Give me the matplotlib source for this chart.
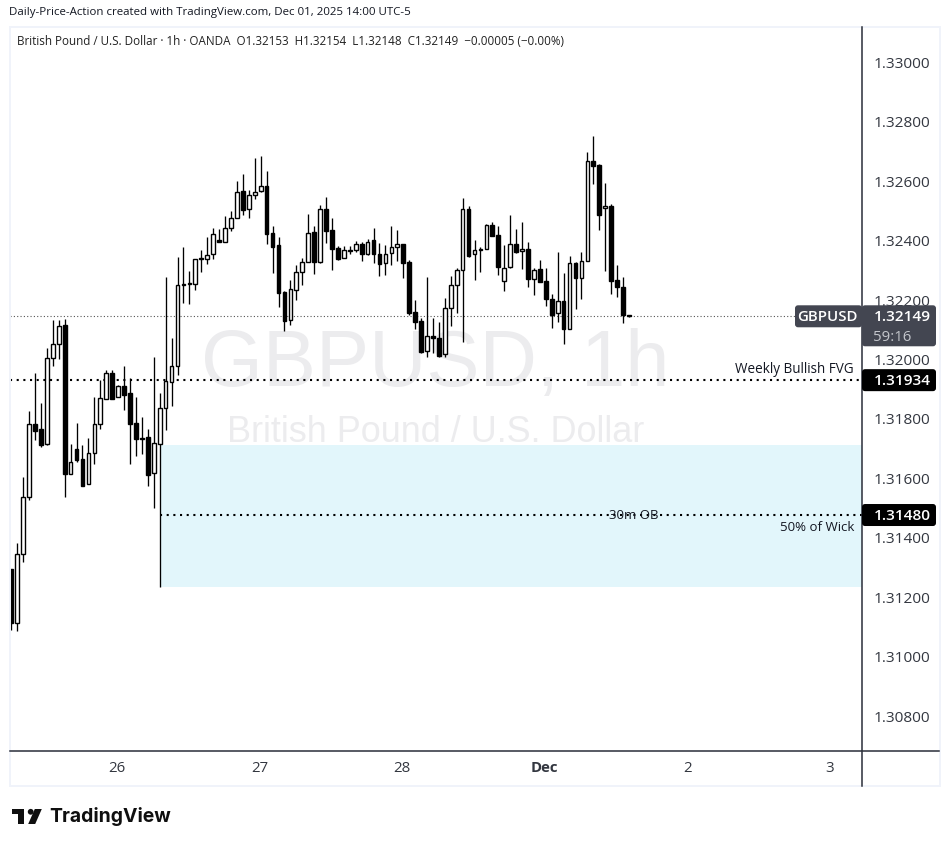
import numpy as np
import matplotlib
matplotlib.use("Agg")
import matplotlib.pyplot as plt
from matplotlib.patches import FancyBboxPatch, Polygon, Circle, Rectangle

# --- data (1h candles) ---
opens = [
    1.31298, 1.31118, 1.31348, 1.31540, 1.31785, 1.31768, 1.31718, 1.32008, 1.32055, 1.32119,
    1.31617, 1.31701, 1.31667, 1.31584, 1.31688, 1.31785, 1.31869, 1.31959, 1.31876, 1.31914,
    1.31890, 1.31790, 1.31738, 1.31741, 1.31621, 1.31718, 1.31840, 1.31927, 1.31981, 1.32256,
    1.32258, 1.32259, 1.32346, 1.32341, 1.32358, 1.32405, 1.32398, 1.32445, 1.32479, 1.32570,
    1.32510, 1.32557, 1.32570, 1.32587, 1.32428, 1.32388, 1.32230, 1.32135, 1.32237, 1.32297,
    1.32331, 1.32432, 1.32333, 1.32510, 1.32439, 1.32378, 1.32344, 1.32370, 1.32371, 1.32391,
    1.32360, 1.32405, 1.32358, 1.32327, 1.32361, 1.32381, 1.32392, 1.32331, 1.32163, 1.32133,
    1.32031, 1.32081, 1.32075, 1.32021, 1.32176, 1.32254, 1.32304, 1.32510, 1.32358, 1.32376,
    1.32374, 1.32455, 1.32422, 1.32267, 1.32314, 1.32392, 1.32368, 1.32375, 1.32273, 1.32307,
    1.32267, 1.32206, 1.32159, 1.32200, 1.32107, 1.32327, 1.32279, 1.32334, 1.32671, 1.32657,
    1.32513, 1.32519, 1.32270, 1.32247, 1.32153,
]
highs = [
    1.31298, 1.31385, 1.31607, 1.31829, 1.31957, 1.31856, 1.32041, 1.32137, 1.32137, 1.32139,
    1.31718, 1.31790, 1.31715, 1.31738, 1.31876, 1.31936, 1.31969, 1.31969, 1.31917, 1.31982,
    1.31940, 1.31877, 1.31810, 1.31768, 1.32012, 1.31890, 1.32280, 1.32076, 1.32348, 1.32381,
    1.32302, 1.32343, 1.32371, 1.32416, 1.32445, 1.32443, 1.32486, 1.32503, 1.32604, 1.32628,
    1.32574, 1.32682, 1.32689, 1.32637, 1.32453, 1.32415, 1.32233, 1.32270, 1.32321, 1.32345,
    1.32494, 1.32453, 1.32523, 1.32550, 1.32479, 1.32386, 1.32385, 1.32387, 1.32402, 1.32398,
    1.32409, 1.32445, 1.32395, 1.32388, 1.32453, 1.32440, 1.32393, 1.32339, 1.32204, 1.32142,
    1.32281, 1.32144, 1.32130, 1.32211, 1.32285, 1.32311, 1.32547, 1.32521, 1.32405, 1.32382,
    1.32461, 1.32465, 1.32452, 1.32389, 1.32490, 1.32443, 1.32467, 1.32399, 1.32311, 1.32339,
    1.32311, 1.32225, 1.32366, 1.32295, 1.32352, 1.32333, 1.32366, 1.32702, 1.32756, 1.32662,
    1.32598, 1.32526, 1.32322, 1.32281, 1.32154,
]
lows = [
    1.31093, 1.31091, 1.31323, 1.31531, 1.31732, 1.31710, 1.31715, 1.31983, 1.32005, 1.31539,
    1.31617, 1.31659, 1.31578, 1.31584, 1.31653, 1.31770, 1.31869, 1.31871, 1.31876, 1.31834,
    1.31653, 1.31679, 1.31685, 1.31576, 1.31505, 1.31239, 1.31767, 1.31848, 1.31953, 1.32195,
    1.32192, 1.32239, 1.32299, 1.32326, 1.32343, 1.32398, 1.32398, 1.32437, 1.32479, 1.32490,
    1.32480, 1.32544, 1.32566, 1.32392, 1.32296, 1.32181, 1.32100, 1.32120, 1.32204, 1.32255,
    1.32331, 1.32293, 1.32330, 1.32397, 1.32306, 1.32339, 1.32344, 1.32359, 1.32366, 1.32336,
    1.32356, 1.32327, 1.32286, 1.32289, 1.32323, 1.32336, 1.32279, 1.32155, 1.32107, 1.32025,
    1.32013, 1.32027, 1.32013, 1.32013, 1.32117, 1.32161, 1.32064, 1.32350, 1.32271, 1.32299,
    1.32374, 1.32420, 1.32288, 1.32234, 1.32311, 1.32362, 1.32308, 1.32249, 1.32221, 1.32265,
    1.32184, 1.32110, 1.32130, 1.32056, 1.32107, 1.32174, 1.32207, 1.32334, 1.32594, 1.32440,
    1.32303, 1.32225, 1.32215, 1.32128, 1.32148,
]
closes = [
    1.31118, 1.31348, 1.31540, 1.31785, 1.31763, 1.31717, 1.32008, 1.32055, 1.32115, 1.31619,
    1.31658, 1.31666, 1.31578, 1.31688, 1.31785, 1.31873, 1.31959, 1.31871, 1.31913, 1.31885,
    1.31788, 1.31737, 1.31736, 1.31616, 1.31722, 1.31840, 1.31930, 1.31981, 1.32254, 1.32258,
    1.32261, 1.32341, 1.32341, 1.32356, 1.32425, 1.32398, 1.32445, 1.32479, 1.32567, 1.32508,
    1.32557, 1.32567, 1.32587, 1.32427, 1.32383, 1.32229, 1.32134, 1.32240, 1.32297, 1.32331,
    1.32428, 1.32333, 1.32510, 1.32437, 1.32377, 1.32343, 1.32371, 1.32372, 1.32391, 1.32360,
    1.32400, 1.32360, 1.32326, 1.32360, 1.32381, 1.32391, 1.32329, 1.32161, 1.32131, 1.32030,
    1.32082, 1.32077, 1.32016, 1.32176, 1.32254, 1.32304, 1.32510, 1.32353, 1.32371, 1.32371,
    1.32455, 1.32420, 1.32316, 1.32311, 1.32391, 1.32366, 1.32375, 1.32273, 1.32304, 1.32265,
    1.32208, 1.32155, 1.32200, 1.32107, 1.32327, 1.32278, 1.32334, 1.32671, 1.32656, 1.32491,
    1.32519, 1.32269, 1.32246, 1.32153, 1.32149,
]

price_ticks = [1.33000, 1.32800, 1.32600, 1.32400, 1.32200, 1.32000,
               1.31800, 1.31600, 1.31400, 1.31200, 1.31000, 1.30800]
day_positions = [18, 42, 66, 90, 114, 138]
day_labels = ["26", "27", "28", "Dec", "2", "3"]

last_price = 1.32149
fvg_level = 1.31934
wick_level = 1.31480
zone_top = 1.31715
zone_bottom = 1.31239
zone_start = 25

W, H = 950, 847
PLOT_L, PLOT_R, PLOT_T, PLOT_B = 10, 862, 27, 751
PX_PER_PRICE = 29705.0
STEP = 5.94
FIRST_X = 11.2

UI_FONT = ["Open Sans", "DejaVu Sans"]
WM_FONT = ["Liberation Sans", "DejaVu Sans"]
DARK = "#131722"
PILL = "#434651"
DOTS = (0, (1, 2.2))


def px(v):
    # fontsize in points for a pixel size at dpi 100
    return v * 0.72


fig = plt.figure(figsize=(W / 100, H / 100), dpi=100, facecolor="white")

ax = fig.add_axes([PLOT_L / W, 1 - PLOT_B / H, (PLOT_R - PLOT_L) / W, (PLOT_B - PLOT_T) / H])
ax.set_xlim((PLOT_L - FIRST_X) / STEP, (PLOT_R - FIRST_X) / STEP)
ax.set_ylim(1.33 - (PLOT_B - 63.5) / PX_PER_PRICE, 1.33 + (63.5 - PLOT_T) / PX_PER_PRICE)
ax.set_xticks([])
ax.set_yticks([])
for s in ax.spines.values():
    s.set_visible(False)

# watermark (axes fractions, so it stays under the candles)
ax.text((435.5 - PLOT_L) / (PLOT_R - PLOT_L), 1 - (365 - PLOT_T) / (PLOT_B - PLOT_T), "GBPUSD, 1h",
        transform=ax.transAxes, ha="center", va="center",
        fontsize=px(79.5), color="#ececee", family=WM_FONT, zorder=1)
ax.text((436 - PLOT_L) / (PLOT_R - PLOT_L), 1 - (432 - PLOT_T) / (PLOT_B - PLOT_T),
        "British Pound / U.S. Dollar", transform=ax.transAxes, ha="center",
        va="center", fontsize=px(36), color="#ececee", family=WM_FONT, zorder=1)

# zone and levels
ax.add_patch(Rectangle((zone_start, zone_bottom), 200, zone_top - zone_bottom,
                       facecolor="#e2f6fb", edgecolor="none", zorder=1.2))
ax.axhline(last_price, color="#555555", lw=0.8, ls=(0, (1, 2)), zorder=1.5)
ax.axhline(fvg_level, color="black", lw=1.5, ls=DOTS, zorder=2)
ax.hlines(wick_level, zone_start, 200, color="black", lw=1.5, ls=DOTS, zorder=2)

# candles
xs = np.arange(len(opens))
opens = np.array(opens)
closes = np.array(closes)
up = closes >= opens
ax.vlines(xs, lows, highs, color="black", lw=0.95, zorder=3)
bottoms = np.minimum(opens, closes)
heights = np.abs(closes - opens)
ax.bar(xs, heights, bottom=bottoms, width=0.62,
       color=["white" if u else "black" for u in up],
       edgecolor="black", linewidth=1.0, zorder=4)

# chrome in pixel coordinates
ui = fig.add_axes([0, 0, 1, 1], facecolor="none")
ui.set_xlim(0, W)
ui.set_ylim(H, 0)
ui.axis("off")


def y_of(price):
    return 63.5 + (1.33 - price) * PX_PER_PRICE


# frame
ui.add_patch(Rectangle((9.5, 27), 930.5, 759, fill=False, edgecolor="#f0f3fa", lw=1.4))
ui.plot([PLOT_R, PLOT_R], [27, 786], color="#2a2e39", lw=1.1)
ui.plot([10, 939], [751, 751], color="#2a2e39", lw=1.1)

for p in price_ticks:
    ui.text(873.5, y_of(p) + 1, f"{p:.5f}", ha="left", va="center", fontsize=px(15.4),
            color="#333740", family=UI_FONT)
for pos, lab in zip(day_positions, day_labels):
    ui.text(FIRST_X + STEP * pos - 1, 768.5, lab, ha="center", va="center", fontsize=px(15),
            color="#333740", family=UI_FONT, fontweight="bold" if lab == "Dec" else "normal")

ui.text(9, 13, "Daily-Price-Action created with TradingView.com, Dec 01, 2025 14:00 UTC-5",
        ha="left", va="center", fontsize=px(11.5), color=DARK, family=UI_FONT)
ui.text(17, 41.5, "British Pound / U.S. Dollar \u00b7 1h \u00b7 OANDA  O1.32153  H1.32154  L1.32148  "
        "C1.32149  \u22120.00005 (\u22120.00%)",
        ha="left", va="center", fontsize=px(11.62), color="#222222", family=UI_FONT)


def pill(x0, y0, x1, y1, color):
    ui.add_patch(FancyBboxPatch((x0 + 2, y0 + 2), x1 - x0 - 4, y1 - y0 - 4,
                                boxstyle="round,pad=2,rounding_size=3",
                                facecolor=color, edgecolor="none", zorder=5))


# price tags
ly = y_of(last_price)
pill(795, ly - 11, 862, ly + 11, PILL)
pill(862, ly - 11, 936, ly + 30, PILL)
ui.text(827.5, ly + 1, "GBPUSD", ha="center", va="center", fontsize=px(15), color="white",
        family=UI_FONT, fontweight="semibold", zorder=6)
ui.text(873.5, ly + 1, "1.32149", ha="left", va="center", fontsize=px(15.4), color="white",
        family=UI_FONT, fontweight="semibold", zorder=6)
ui.text(873.5, ly + 21, "59:16", ha="left", va="center", fontsize=px(15), color="#c4c6cc",
        family=UI_FONT, zorder=6)

for level in (fvg_level, wick_level):
    yy = y_of(level)
    pill(862, yy - 11, 936, yy + 11, "black")
    ui.text(873.5, yy + 1, f"{level:.5f}", ha="left", va="center", fontsize=px(15.4), color="white",
            family=UI_FONT, fontweight="semibold", zorder=6)

ui.text(854, y_of(fvg_level) - 11, "Weekly Bullish FVG", ha="right", va="center",
        fontsize=px(13.5), color=DARK, family=UI_FONT)
ui.text(854, y_of(wick_level) + 12, "50% of Wick", ha="right", va="center",
        fontsize=px(13.2), color=DARK, family=UI_FONT)
ui.text(634, y_of(wick_level), "30m OB", ha="center", va="center",
        fontsize=px(13.2), color=DARK, family=UI_FONT)

# TradingView logo
ui.add_patch(Polygon([(12, 809), (24, 809), (24, 824), (18, 824), (18, 814.5), (12, 814.5)],
                     facecolor="#0f0f0f", edgecolor="none"))
ui.add_patch(Circle((30.7, 811.8), 2.9, facecolor="#0f0f0f", edgecolor="none"))
ui.add_patch(Polygon([(34.8, 809), (41.8, 809), (35.2, 824), (28.2, 824)],
                     facecolor="#0f0f0f", edgecolor="none"))
ui.text(49, 817, "TradingView", ha="left", va="center", fontsize=px(19.4), color="#0f0f0f",
        family=["Inter", "DejaVu Sans"], fontweight="bold")

fig.savefig("out.png", dpi=100, facecolor="white")
